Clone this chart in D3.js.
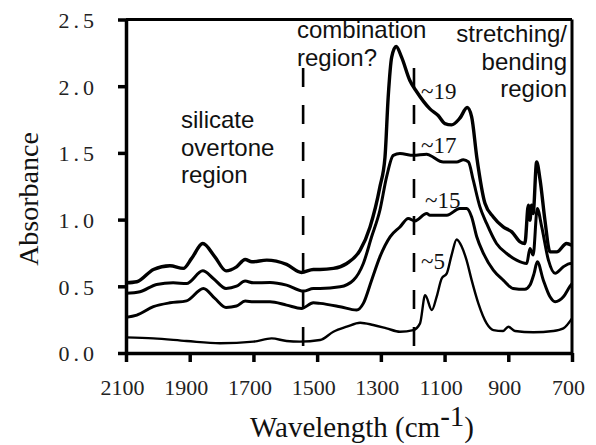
<!DOCTYPE html>
<html>
<head>
<meta charset="utf-8">
<script src="https://cdn.jsdelivr.net/npm/d3@7"></script>
<style>
  html, body { margin: 0; padding: 0; background: #fff; }
  svg { display: block; }
</style>
</head>
<body>
<svg id="chart" width="596" height="445"></svg>
<script>
// ---- data (wavenumber in cm^-1, absorbance) ----
const xTicks = [2100, 1900, 1700, 1500, 1300, 1100, 900, 700];
const yTicks = [0.0, 0.5, 1.0, 1.5, 2.0, 2.5];

const wn19 = [2100,2066,2014,1962,1920,1894,1859,1821,1786,1753,1726,1705,1658,1596,1549,1512,1491,1449,1407,1365,1334,1303,1287,1277,1266,1252,1235,1209,1188,1146,1120,1099,1078,1052,1029,1015,999,973,947,916,889,863,848,837,832,827,822,811,800,785,769,748,717,701];
const ab19 = [0.526,0.534,0.626,0.654,0.634,0.709,0.821,0.721,0.616,0.646,0.701,0.684,0.696,0.664,0.604,0.626,0.626,0.634,0.671,0.771,0.945,1.245,1.469,1.918,2.218,2.298,2.218,2.043,1.96,1.83,1.78,1.72,1.71,1.76,1.84,1.77,1.47,1.12,1.02,0.945,0.908,0.833,0.821,1.108,0.996,1.108,1.046,1.432,1.295,0.996,0.758,0.758,0.821,0.808];

const wn17 = [2100,2056,2004,1952,1910,1859,1826,1786,1753,1726,1700,1648,1596,1543,1512,1491,1428,1386,1355,1329,1303,1282,1261,1240,1198,1156,1146,1104,1062,1041,1025,1010,989,968,937,905,874,842,832,822,809,795,774,753,727,706,700];
const ab17 = [0.447,0.459,0.514,0.526,0.521,0.616,0.559,0.484,0.501,0.539,0.526,0.529,0.509,0.464,0.484,0.484,0.496,0.546,0.671,0.871,1.070,1.320,1.482,1.495,1.482,1.490,1.482,1.432,1.432,1.449,1.432,1.295,1.095,0.971,0.821,0.746,0.696,0.671,0.784,0.734,1.083,0.945,0.696,0.597,0.646,0.671,0.67];

const wn15 = [2100,2066,2014,1962,1910,1857,1821,1786,1753,1726,1700,1648,1596,1549,1512,1491,1428,1376,1355,1329,1303,1271,1240,1214,1193,1156,1146,1093,1052,1031,1015,999,978,947,916,885,848,832,819,809,790,769,753,727,706,700];
const ab15 = [0.267,0.284,0.347,0.376,0.391,0.484,0.409,0.342,0.352,0.389,0.384,0.384,0.359,0.334,0.376,0.372,0.347,0.322,0.372,0.546,0.721,0.871,0.945,1.008,0.990,1.046,1.033,1.033,1.083,1.083,1.020,0.871,0.746,0.621,0.546,0.484,0.477,0.509,0.597,0.684,0.546,0.421,0.384,0.421,0.501,0.52];

const wn5 = [2100,2014,1910,1805,1700,1643,1596,1554,1491,1449,1407,1365,1324,1282,1240,1198,1177,1161,1140,1125,1109,1093,1078,1062,1046,1031,1015,994,968,947,916,900,879,821,759,727,700];
const ab5 = [0.117,0.110,0.090,0.073,0.085,0.110,0.090,0.085,0.097,0.159,0.197,0.227,0.210,0.185,0.159,0.172,0.222,0.434,0.322,0.421,0.559,0.597,0.734,0.851,0.796,0.696,0.546,0.372,0.222,0.172,0.165,0.197,0.165,0.155,0.165,0.185,0.260];

const seriesNames = ["~19", "~17", "~15", "~5"];
const seriesWidths = [3.4, 3.0, 3.0, 2.4];
const dashedAt = [1544, 1196];

// ---- layout ----
const svg = d3.select("#chart");
const x = d3.scaleLinear().domain([2100, 700]).range([126, 572]);
const y = d3.scaleLinear().domain([0, 2.5]).range([353, 19.5]);

const serif = "'Liberation Serif', 'Times New Roman', serif";
const sans = "'Liberation Sans', Arial, sans-serif";

// frame (top & right)
svg.append("line").attr("x1", 126).attr("x2", 572).attr("y1", y(2.5)).attr("y2", y(2.5))
  .attr("stroke", "#000").attr("stroke-width", 3);
svg.append("line").attr("x1", 572).attr("x2", 572).attr("y1", y(2.5)).attr("y2", 353)
  .attr("stroke", "#000").attr("stroke-width", 3);

// dashed guide lines
dashedAt.forEach(w => {
  svg.append("line").attr("x1", x(w)).attr("x2", x(w)).attr("y1", 68).attr("y2", 348)
    .attr("stroke", "#000").attr("stroke-width", 2.6).attr("stroke-dasharray", "19,18");
});

// curves
const line = d3.line().x(d => x(d[0])).y(d => y(d[1])).curve(d3.curveMonotoneX);
const series = [[wn19, ab19], [wn17, ab17], [wn15, ab15], [wn5, ab5]];
series.forEach(([w, a], i) => {
  const pts = w.map((v, j) => [v, a[j]]);
  svg.append("path").datum(pts).attr("d", line)
    .attr("fill", "none").attr("stroke", "#000")
    .attr("stroke-width", seriesWidths[i]).attr("stroke-linejoin", "round");
});

// axes
const xAxis = svg.append("g").attr("transform", "translate(0,353)")
  .call(d3.axisBottom(x).tickValues(xTicks).tickSize(9).tickSizeOuter(0).tickPadding(17).tickFormat(d3.format("d")));
const yAxis = svg.append("g").attr("transform", "translate(126,0)")
  .call(d3.axisLeft(y).tickValues(yTicks).tickSize(8).tickSizeOuter(0).tickPadding(20).tickFormat(d3.format(".1f")));

[xAxis, yAxis].forEach(g => {
  g.select(".domain").attr("stroke", "#000").attr("stroke-width", 3.5);
  g.selectAll(".tick line").attr("stroke", "#000").attr("stroke-width", 3.5);
  g.selectAll(".tick text").attr("fill", "#222").style("font-family", serif).style("font-size", "22px");
});
xAxis.selectAll(".tick text").attr("dx", -4);
yAxis.selectAll(".tick text").style("letter-spacing", "4px").attr("dy", "0.36em");

// axis titles
const xt = svg.append("text").attr("x", 250).attr("y", 437)
  .style("font-family", serif).style("font-size", "29px").attr("fill", "#111");
xt.append("tspan").text("Wavelength (cm");
xt.append("tspan").attr("dy", -11).text("-1");
xt.append("tspan").attr("dy", 11).text(")");

svg.append("text").attr("transform", "translate(38,199) rotate(-90)")
  .attr("text-anchor", "middle")
  .style("font-family", serif).style("font-size", "28px").attr("fill", "#111")
  .text("Absorbance");

// region annotations
function block(lines, xx, y0, anchor) {
  const t = svg.append("text").attr("text-anchor", anchor)
    .style("font-family", sans).style("font-size", "24px").attr("fill", "#111");
  lines.forEach((s, i) => t.append("tspan").attr("x", xx).attr("y", y0 + i * 27.5).text(s));
}
block(["silicate", "overtone", "region"], 181, 128, "start");
block(["combination", "region?"], 297, 38, "start");
block(["stretching/", "bending", "region"], 567, 42, "end");

// series labels
const labelPos = [[421, 99], [421, 153], [425, 208], [421, 269]];
seriesNames.forEach((s, i) => {
  svg.append("text").attr("x", labelPos[i][0]).attr("y", labelPos[i][1])
    .style("font-family", serif).style("font-size", "23px").attr("fill", "#111")
    .text(s);
});
</script>
</body>
</html>
